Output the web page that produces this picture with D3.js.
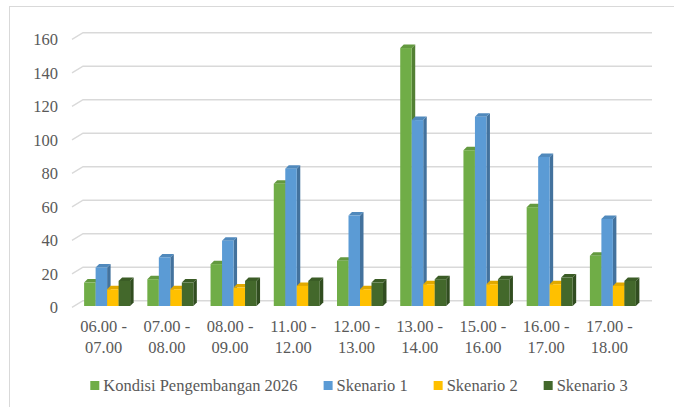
<!DOCTYPE html>
<html>
<head>
<meta charset="utf-8">
<script src="https://cdn.jsdelivr.net/npm/d3@7"></script>
</head>
<body style="margin:0;background:#fff">
<svg id="chart" width="674" height="407" font-family="Liberation Serif" style="display:block;font-family:'Liberation Serif'"></svg>
<script>
// Peak-hour volumes per time window
const categories = ["06.00 - 07.00", "07.00 - 08.00", "08.00 - 09.00", "11.00 - 12.00",
                    "12.00 - 13.00", "13.00 - 14.00", "15.00 - 16.00", "16.00 - 17.00", "17.00 - 18.00"];
const seriesNames = ["Kondisi Pengembangan 2026", "Skenario 1", "Skenario 2", "Skenario 3"];
const kondisi2026 = [14, 16, 25, 73, 27, 154, 93, 59, 30];
const skenario1   = [23, 29, 39, 82, 54, 111, 113, 89, 52];
const skenario2   = [10, 10, 11, 12, 10, 13, 13, 13, 12];
const skenario3   = [15, 14, 15, 15, 14, 16, 16, 17, 15];
const yTicks = [0, 20, 40, 60, 80, 100, 120, 140, 160];

const seriesValues = [kondisi2026, skenario1, skenario2, skenario3];
const colors = ["#70AD47", "#5B9BD5", "#FFC000", "#43682B"];
const FONT = "Liberation Serif";

const svg = d3.select("#chart");

// Apply the serif face to a text selection
function serif(sel, size) {
  return sel.attr("font-family", FONT)
    .style("font-family", "'Liberation Serif', serif")
    .attr("font-size", size)
    .attr("fill", "#595959");
}

// Outer chart frame
svg.append("rect")
  .attr("x", 9.5).attr("y", 6.5)
  .attr("width", 700).attr("height", 420)
  .attr("fill", "none").attr("stroke", "#D9D9D9").attr("stroke-width", 1);

// Oblique projection: back wall is shifted right/up from the front plane
const depthX = 11, depthY = 6.7;

// Value scale on the back wall
const y = d3.scaleLinear().domain([0, 160]).range([300.7, 32.7]);
// Category scale on the front plane
const x = d3.scaleBand().domain(categories).range([72, 641]).paddingInner(0).paddingOuter(0);
// Series inside each category group
const groupWidth = 46;
const xs = d3.scaleBand().domain(d3.range(seriesNames.length)).range([0, groupWidth]);

// Gridlines with the floor-edge slant at the left
const grid = svg.append("g");
yTicks.forEach(t => {
  const yb = y(t);
  grid.append("path")
    .attr("d", `M${72},${yb + depthY} L${72 + depthX},${yb} L${652},${yb}`)
    .attr("fill", "none").attr("stroke", "#D9D9D9").attr("stroke-width", 1.4);
});

// Y axis labels, on the front plane
serif(svg.append("g").selectAll("text")
  .data(yTicks).join("text")
  .attr("x", 58).attr("y", d => y(d) + depthY)
  .attr("dy", "0.35em")
  .attr("text-anchor", "end"), 16.5)
  .text(d => d);

// Bars: front face plane is slightly behind the front edge
const barShiftX = 3.5;
const baseY = y(0) + depthY - 1.4;
const pxPerUnit = (y(0) - y(1));
const bx = 3.5, by = 3.5; // bar depth

function shade(c, k) { return d3.color(c).darker(k).formatHex(); }

const bars = svg.append("g");
categories.forEach((cat, ci) => {
  const gx = x(cat) + x.bandwidth() / 2 - groupWidth / 2 + barShiftX;
  seriesValues.forEach((vals, si) => {
    const v = vals[ci];
    const x0 = gx + xs(si), w = xs.bandwidth();
    const top = baseY - v * pxPerUnit;
    const col = colors[si];
    const g = bars.append("g");
    // right side face
    g.append("path")
      .attr("d", `M${x0 + w},${top} L${x0 + w + bx},${top - by} L${x0 + w + bx},${baseY - by} L${x0 + w},${baseY} Z`)
      .attr("fill", shade(col, 0.85));
    // top face
    g.append("path")
      .attr("d", `M${x0},${top} L${x0 + bx},${top - by} L${x0 + w + bx},${top - by} L${x0 + w},${top} Z`)
      .attr("fill", shade(col, 0.35));
    // front face
    g.append("rect")
      .attr("x", x0).attr("y", top)
      .attr("width", w).attr("height", baseY - top)
      .attr("fill", col);
  });
});

// Category labels, two lines each
const xl = svg.append("g");
categories.forEach(cat => {
  const parts = cat.split(" - ");
  const cx = x(cat) + x.bandwidth() / 2;
  const t = serif(xl.append("text").attr("text-anchor", "middle"), 16.5);
  t.append("tspan").attr("x", cx).attr("y", 332).text(parts[0] + " -");
  t.append("tspan").attr("x", cx).attr("y", 353).text(parts[1]);
});

// Legend
const legend = svg.append("g");
let cursor = 0;
seriesNames.forEach((name, i) => {
  const it = legend.append("g");
  it.append("rect").attr("x", 0).attr("y", -10).attr("width", 9).attr("height", 9).attr("fill", colors[i]);
  const txt = serif(it.append("text").attr("x", 13).attr("y", 0), 16.5).text(name);
  const w = 13 + txt.node().getComputedTextLength();
  it.attr("transform", `translate(${cursor},0)`);
  cursor += w + 26;
});
const legendW = cursor - 26;
legend.attr("transform", `translate(${359 - legendW / 2},${391})`);
</script>
</body>
</html>
